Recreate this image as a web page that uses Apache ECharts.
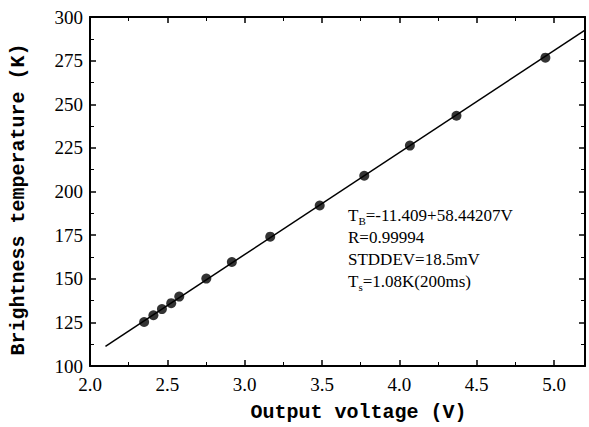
<!DOCTYPE html>
<html>
<head>
<meta charset="utf-8">
<script src="https://cdn.jsdelivr.net/npm/echarts@6/dist/echarts.min.js"></script>
<style>
html, body { margin: 0; padding: 0; background: #fff; }
#chart { width: 589px; height: 427px; }
</style>
</head>
<body>
<div id="chart"></div>
<script>
// measured points (output voltage V, brightness temperature K)
var voltage = [2.35, 2.41, 2.465, 2.525, 2.577, 2.752, 2.917, 3.165, 3.485, 3.773, 4.068, 4.369, 4.944];
var temperature = [125.2, 129.1, 132.6, 136.0, 139.8, 150.1, 159.6, 174.1, 192.0, 209.0, 226.3, 243.4, 276.7];
// fitted line end points
var fitVoltage = [2.1, 5.2];
var fitTemperature = [111.3, 292.5];

var fitText = ['T{sub|B}=-11.409+58.44207V', 'R=0.99994', 'STDDEV=18.5mV', 'T{sub|s}=1.08K(200ms)'];

var serif = 'Liberation Serif, DejaVu Serif, serif';
var mono = 'Liberation Mono, DejaVu Sans Mono, monospace';

var pts = voltage.map(function (v, i) { return [v, temperature[i]]; });
var fit = fitVoltage.map(function (v, i) { return [v, fitTemperature[i]]; });

var axisLine = { show: true, lineStyle: { color: '#000', width: 2 } };
var tickRich = { t: { fontFamily: serif, fontSize: 19, color: '#000' } };

var chart = echarts.init(document.getElementById('chart'), null, { renderer: 'svg' });
chart.setOption({
	animation: false,
	backgroundColor: '#fff',
	textStyle: { fontFamily: serif, color: '#000' },
	grid: { left: 84, right: 4, top: 17, bottom: 60 },
	xAxis: [{
		type: 'value',
		min: 2.0,
		max: 5.2,
		interval: 0.5,
		position: 'bottom',
		name: 'Output voltage (V)',
		nameLocation: 'middle',
		nameGap: 36,
		nameTextStyle: { fontFamily: mono, fontWeight: 'bold', fontSize: 20, color: '#000', padding: [0, 0, 0, 42] },
		axisLine: axisLine,
		axisTick: { inside: true, length: 6, lineStyle: { color: '#000', width: 1.5 } },
		minorTick: { show: true, splitNumber: 2, length: 4, lineStyle: { color: '#000' } },
		splitLine: { show: false },
		axisLabel: {
			margin: 9,
			fontFamily: serif,
			fontSize: 19,
			color: '#000',
			rich: tickRich,
			showMaxLabel: false,
			formatter: function (v) {
				return Math.abs(v * 2 - Math.round(v * 2)) < 1e-6 ? '{t|' + v.toFixed(1) + '}' : '';
			}
		}
	}, {
		type: 'value',
		min: 2.0,
		max: 5.2,
		interval: 0.5,
		position: 'top',
		axisLine: axisLine,
		axisTick: { inside: true, length: 6, lineStyle: { color: '#000', width: 1.5 } },
		minorTick: { show: true, splitNumber: 2, length: 4, lineStyle: { color: '#000' } },
		splitLine: { show: false },
		axisLabel: { show: false }
	}],
	yAxis: [{
		type: 'value',
		min: 100,
		max: 300,
		interval: 25,
		position: 'left',
		name: 'Brightness temperature (K)',
		nameLocation: 'middle',
		nameGap: 62,
		nameTextStyle: { fontFamily: mono, fontWeight: 'bold', fontSize: 20, color: '#000', padding: [0, 16, 0, 0] },
		axisLine: axisLine,
		axisTick: { inside: true, length: 6, lineStyle: { color: '#000', width: 1.5 } },
		minorTick: { show: true, splitNumber: 2, length: 4, lineStyle: { color: '#000' } },
		splitLine: { show: false },
		axisLabel: {
			margin: 7,
			fontFamily: serif,
			fontSize: 19,
			color: '#000',
			rich: tickRich,
			formatter: function (v) { return '{t|' + v + '}'; }
		}
	}, {
		type: 'value',
		min: 100,
		max: 300,
		interval: 25,
		position: 'right',
		axisLine: axisLine,
		axisTick: { inside: true, length: 6, lineStyle: { color: '#000', width: 1.5 } },
		minorTick: { show: true, splitNumber: 2, length: 4, lineStyle: { color: '#000' } },
		splitLine: { show: false },
		axisLabel: { show: false }
	}],
	graphic: [{
		type: 'text',
		left: 348,
		top: 204,
		style: {
			text: fitText.join('\n'),
			font: '17px ' + serif,
			fill: '#000',
			lineHeight: 22,
			rich: {
				sub: { font: '11px ' + serif, fill: '#000', verticalAlign: 'bottom', padding: [9, 0, 0, 0], lineHeight: 22 }
			}
		}
	}],
	series: [{
		type: 'line',
		data: fit,
		showSymbol: false,
		lineStyle: { color: '#000', width: 1.5 },
		silent: true
	}, {
		type: 'scatter',
		data: pts,
		symbol: 'circle',
		symbolSize: 10,
		itemStyle: { color: '#000' }
	}]
});
</script>
</body>
</html>
